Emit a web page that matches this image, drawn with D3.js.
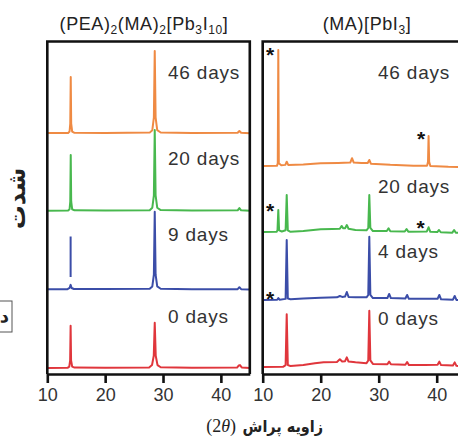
<!DOCTYPE html>
<html><head><meta charset="utf-8">
<script src="https://cdn.jsdelivr.net/npm/d3@7/dist/d3.min.js"></script>
<style>body{margin:0;background:#fff;overflow:hidden}</style>
</head><body><svg id="c" width="458" height="439"></svg>
<script>
// ---------- DATA ----------
const xTicks = [10, 20, 30, 40];
const dayLabelsLeft = ["0 days", "9 days", "20 days", "46 days"];
const dayLabelsRight = ["0 days", "4 days", "20 days", "46 days"];
const offsetsLeft = [0, 100, 200, 300];
const offsetsRight = [0, 85, 170, 255];
const seriesColors = ["#e0363c", "#3b4da8", "#48b84e", "#ef8a43"];

// Left panel (PEA)2(MA)2[Pb3I10]  [2theta, intensity]
const left0 = [[10,10.3],[13.5,10.5],[13.8,12],[13.95,20],[14.03,64.6],[14.11,20],[14.3,12],[14.7,10.8],[20,10.5],[27.6,11],[28.1,14],[28.4,26],[28.57,68.4],[28.74,26],[29.05,14],[29.6,11.2],[35,10.6],[42.8,10.8],[43.1,13.5],[43.3,14],[43.6,11],[45,10.2]];
const left9 = [[10,11.2],[13.5,11.5],[13.85,13],[14.03,17],[14.2,13],[14.6,11.7],[20,11.7],[27.7,12],[28.15,15],[28.42,30],[28.57,110.9],[28.72,30],[29,15],[29.6,12],[35,11.5],[42.9,11.5],[43.2,14],[43.5,11.5],[45,11],null,[14.03,27],[14.03,79]];
const left20 = [[10,12.2],[13.6,12.4],[13.85,14],[13.97,24],[14.05,83.7],[14.13,24],[14.3,14],[14.7,12.6],[20,12.4],[27.7,12.8],[28.15,16],[28.42,32],[28.57,115.8],[28.72,32],[29,16],[29.6,13],[35,12.4],[42.9,12.6],[43.2,15.6],[43.5,12.6],[45,12]];
const left46 = [[10,11.9],[13.6,12],[13.85,13.8],[13.97,24],[14.05,83.8],[14.13,24],[14.3,13.8],[14.7,12.2],[20,11.9],[27.7,12.4],[28.15,15.5],[28.42,32],[28.57,117.2],[28.72,32],[29,15.5],[29.6,12.5],[35,11.9],[42.9,12.2],[43.2,14.5],[43.5,12.2],[45,11.6]];

// Right panel (MA)[PbI3]
const right0 = [[10,11.5],[13.5,11.8],[13.95,14],[14.14,79.2],[14.33,14],[14.8,12.8],[17,14],[19,16.5],[20.5,17.5],[22.8,18],[23.3,21.4],[23.7,18.5],[24.2,19],[24.5,24],[24.8,18.5],[26,17.5],[27.9,16.5],[28.2,20],[28.38,83.8],[28.56,20],[29,15.5],[31.5,15],[31.8,18.4],[32.1,15],[34.6,14.5],[34.9,18],[35.2,14],[38,14],[40.15,14.5],[40.45,18.4],[40.75,14],[42.8,13.5],[43.1,17.5],[43.4,13],[45,12.5]];
const right4 = [[10,12.6],[12.5,12.8],[12.7,15],[12.9,13],[13.95,14],[14.14,89.6],[14.33,14.5],[14.8,13.5],[17,14.5],[20,15.5],[22.8,16],[23.3,17.7],[23.7,16.5],[24.2,17],[24.5,22.8],[24.8,16.5],[26,16],[27.9,16],[28.2,19],[28.38,93.8],[28.56,19],[29,15],[31.5,15],[31.8,20.3],[32.1,15],[34.6,14.5],[34.9,19],[35.2,14],[38,14],[40.15,14],[40.45,19],[40.75,13.5],[42.8,13],[43.1,17.7],[43.4,12.6],[45,12.5]];
const right20 = [[10,14.9],[12.4,15],[12.55,17],[12.69,43.1],[12.83,17],[13.3,15.5],[13.95,17],[14.14,62.3],[14.33,17],[14.8,15],[17,16],[20,18.5],[22,18.7],[23.3,19],[23.6,22.6],[23.9,19.5],[24.2,19.5],[24.5,23.8],[24.8,19],[26,17.5],[27.9,17],[28.2,20],[28.38,62.3],[28.56,20],[29,16],[31.4,16],[31.7,19.6],[32,15.8],[34.5,15.5],[34.8,18.7],[35.1,15.3],[38.3,15.5],[38.6,20.9],[38.9,15],[40.1,14.8],[40.4,17.4],[40.7,14.5],[42.7,14],[43,17.4],[43.3,13.8],[45,13.6]];
const right46 = [[10,14.6],[12.45,14.8],[12.6,18],[12.69,163.5],[12.78,18],[13.2,15.5],[13.9,16],[14.14,20.1],[14.4,15.9],[17,16.5],[20,18],[23,18.4],[25.1,19],[25.4,24.5],[25.7,19],[27,18.5],[28.1,18.5],[28.38,22.3],[28.65,17.5],[32,16],[36,15],[38.35,15],[38.5,20],[38.6,53.1],[38.7,20],[38.9,14.5],[42,13.5],[45,13.3]];

// PbI2 markers (right panel): [2theta, stacked intensity]
const starPoints = [[11.26,419.8],[37.3,311.9],[11.26,219.5],[37.24,198.1],[11.26,106.5]];

// ---------- LAYOUT ----------
const svg = d3.select("#c");
const axisY = 374, frameTop = 41.5;
const xL = d3.scaleLinear().domain([10, 45]).range([47.3, 249.8]);
const xR = d3.scaleLinear().domain([10, 45]).range([262.7, 465.7]);
const y = d3.scaleLinear().domain([0, 430]).range([376, 41]);
const font = "'Liberation Sans', Arial, sans-serif";

function drawPanel(x, seriesList, offsets, colors, rightOpen) {
  const g = svg.append("g");
  seriesList.forEach((s, i) => {
    const line = d3.line()
      .defined(d => d !== null)
      .x(d => x(d[0]))
      .y(d => y(d[1] + offsets[i]));
    g.append("path").attr("d", line(s)).attr("fill", "none")
      .attr("stroke", colors[i]).attr("stroke-width", 2)
      .attr("stroke-linejoin", "round");
  });
  const [a, b] = x.range();
  const framePath = rightOpen
    ? `M${a},${axisY} V${frameTop} H${b + 10}`
    : `M${a},${axisY} V${frameTop} H${b} V${axisY}`;
  g.append("path").attr("d", framePath).attr("fill", "none")
    .attr("stroke", "#111").attr("stroke-width", 2.6);
  const ax = svg.append("g").attr("transform", `translate(0,${axisY})`)
    .call(d3.axisBottom(x).tickValues(xTicks).tickSize(9).tickSizeOuter(0).tickPadding(5));
  ax.select(".domain").attr("stroke", "#111").attr("stroke-width", 2.6);
  ax.selectAll(".tick line").attr("stroke", "#111").attr("stroke-width", 2.6);
  ax.selectAll(".tick text").attr("font-family", font).attr("font-size", 18).attr("fill", "#333");
}

drawPanel(xL, [left0, left9, left20, left46], offsetsLeft, seriesColors, false);
drawPanel(xR, [right0, right4, right20, right46], offsetsRight, seriesColors, true);

// day labels
const leftLabelY = [323, 241, 165, 79];
const rightLabelY = [325, 258, 193, 79];
dayLabelsLeft.forEach((t, i) => svg.append("text").attr("x", 168).attr("y", leftLabelY[i])
  .attr("font-family", font).attr("font-size", 19).attr("letter-spacing", 0.8).attr("fill", "#333").text(t));
dayLabelsRight.forEach((t, i) => svg.append("text").attr("x", 378).attr("y", rightLabelY[i])
  .attr("font-family", font).attr("font-size", 19).attr("letter-spacing", 0.8).attr("fill", "#333").text(t));

// stars
starPoints.forEach(p => svg.append("text").attr("x", xR(p[0])).attr("y", y(p[1]) + 13)
  .attr("text-anchor", "middle").attr("font-family", font).attr("font-weight", "bold")
  .attr("font-size", 21).attr("fill", "#111").text("*"));

// titles
function title(cx, parts) {
  const t = svg.append("text").attr("x", cx).attr("y", 30).attr("text-anchor", "middle")
    .attr("font-family", font).attr("font-size", 18).attr("letter-spacing", 0.6).attr("fill", "#222");
  let sub = false;
  parts.forEach(([s, isSub]) => {
    const ts = t.append("tspan").text(s);
    if (isSub) ts.attr("font-size", 12).attr("dy", sub ? 0 : 4);
    else ts.attr("dy", sub ? -4 : 0);
    sub = isSub;
  });
}
title(144, [["(PEA)",0],["2",1],["(MA)",0],["2",1],["[Pb",0],["3",1],["I",0],["10",1],["]",0]]);
title(367, [["(MA)[PbI",0],["3",1],["]",0]]);

// axis titles
svg.append("text").attr("x", 323).attr("y", 432).attr("text-anchor", "end")
  .attr("font-family", "'DejaVu Sans Condensed', 'DejaVu Sans', sans-serif").attr("font-weight", "bold")
  .attr("font-size", 16).attr("fill", "#222").text("زاویه پراش");
const xt = svg.append("text").attr("x", 236).attr("y", 432).attr("text-anchor", "end")
  .attr("font-family", "'Liberation Serif', serif").attr("font-size", 18).attr("fill", "#222");
xt.append("tspan").text("(2");
xt.append("tspan").attr("font-style", "italic").text("θ");
xt.append("tspan").text(")");

svg.append("text").attr("transform", "translate(25,198.5) rotate(-90)").attr("text-anchor", "middle")
  .attr("font-family", "'DejaVu Sans', sans-serif").attr("font-weight", "bold")
  .attr("font-size", 24).attr("fill", "#222").text("شدت");

// cut-off panel tag
svg.append("rect").attr("x", -20).attr("y", 301).attr("width", 32).attr("height", 31)
  .attr("fill", "#fff").attr("stroke", "#555").attr("stroke-width", 1);
svg.append("text").attr("x", 9).attr("y", 322).attr("text-anchor", "end")
  .attr("font-family", "'DejaVu Sans', sans-serif").attr("font-weight", "bold")
  .attr("font-size", 18).attr("fill", "#222").text("د");
</script></body></html>
